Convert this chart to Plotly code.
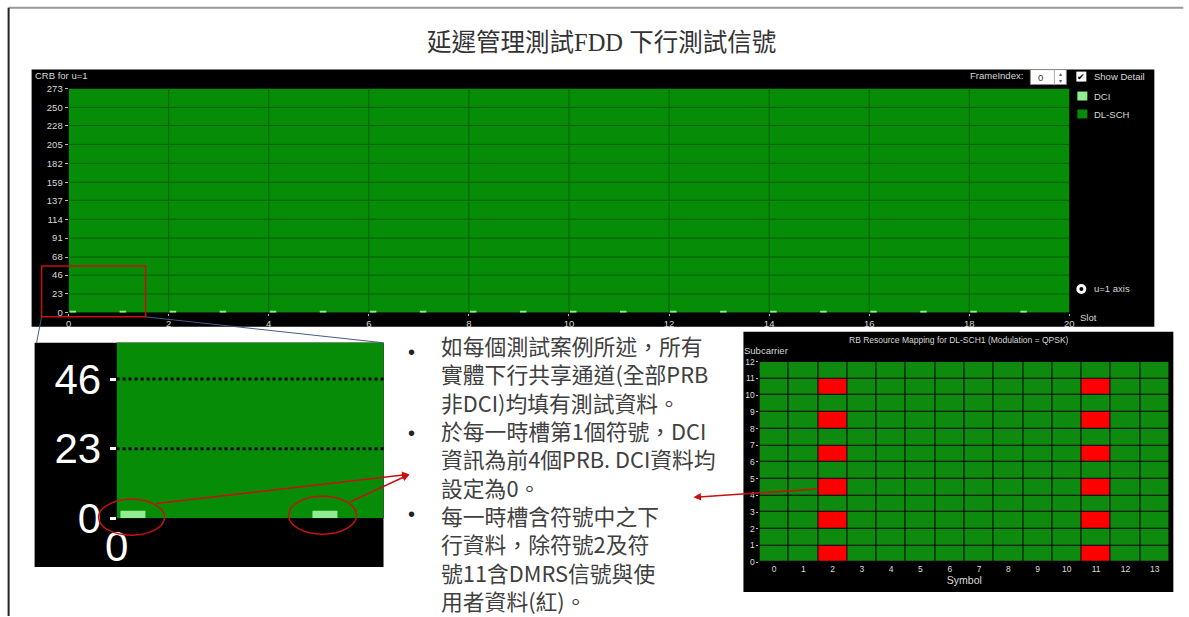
import plotly.graph_objects as go

# positions below (1189x617); the rendered picture comes back
# shifted and slightly squeezed, so every position goes through to_page_x / to_page_y first
W, H = 1195, 640
SHIFT_X, SCALE_X = 10.4, 0.986
SHIFT_Y, SCALE_Y = 5.2, 0.956

TITLE = "延遲管理測試FDD 下行測試信號"

# top panel: CRB grid over 20 slots
SLOT_EDGES = list(range(21))
SLOT_TICKS = [0, 2, 4, 6, 8, 10, 12, 14, 16, 18, 20]
SLOT_TICK_TEXT = ["0", "2", "4", "6", "8", "10", "12", "14", "16", "18", "20"]
CRB_TICKS = [0, 23, 46, 68, 91, 114, 137, 159, 182, 205, 228, 250, 273]
CRB_MAX = 273
DCI_SLOTS = list(range(20))
DCI_START = 0.02
DCI_WIDTH = 0.13
DCI_HEIGHT = 2.5

# zoomed inset
INSET_X_TICKS = [0]
INSET_Y_TICKS = [0, 23, 46]
INSET_X_MAX = 1.39
INSET_Y_MAX = 58

# RE mapping panel
SYMBOLS = list(range(14))
SUBCARRIER_EDGES = list(range(13))
DMRS_SYMBOLS = [2, 11]
DMRS_SUBCARRIERS = [0, 2, 4, 6, 8, 10]

BULLETS = [
	["如每個測試案例所述，所有", "實體下行共享通道(全部PRB", "非DCI)均填有測試資料。"],
	["於每一時槽第1個符號，DCI", "資訊為前4個PRB. DCI資料均", "設定為0。"],
	["每一時槽含符號中之下", "行資料，除符號2及符", "號11含DMRS信號與使", "用者資料(紅)。"],
]

GREEN = "#078c07"
RE_GREEN = "#0e8a0e"
LIGHT_GREEN = "#90ee90"
DMRS_RED = "#ff0000"
GRID = "#066006"
MARK_RED = "#c81010"
UI_FONT = "Liberation Sans"
CJK_FONT = "Noto Sans CJK TC"
TITLE_FONT = "Liberation Serif, Noto Sans CJK TC"
LINE_STEP = 27.1
TEXT_SIZE = LINE_STEP / (1.3 * SCALE_Y)


def to_page_x(x):
	return (x - SHIFT_X) / SCALE_X


def to_page_y(y):
	return (y - SHIFT_Y) / SCALE_Y


def px(x):
	return to_page_x(x) / W


def py(y):
	return 1 - to_page_y(y) / H


fig = go.Figure()

for xa, ya in [("x", "y"), ("x2", "y2")]:
	fig.add_trace(go.Heatmap(
		x=SLOT_EDGES, y=[0, CRB_MAX], z=[[1] * (len(SLOT_EDGES) - 1)],
		colorscale=[[0, GREEN], [1, GREEN]], zmin=0, zmax=1, showscale=False,
		hoverinfo="skip", xaxis=xa, yaxis=ya, name="DL-SCH",
	))
	fig.add_trace(go.Bar(
		x=[s + DCI_START + DCI_WIDTH / 2 for s in DCI_SLOTS], y=[DCI_HEIGHT] * len(DCI_SLOTS),
		width=DCI_WIDTH, marker={"color": LIGHT_GREEN, "line": {"width": 0}},
		xaxis=xa, yaxis=ya, name="DCI", hoverinfo="skip",
	))

re_grid = [[1 if (sym in DMRS_SYMBOLS and sc in DMRS_SUBCARRIERS) else 0 for sym in SYMBOLS]
	for sc in SUBCARRIER_EDGES[:-1]]
fig.add_trace(go.Heatmap(
	x=SYMBOLS, y=SUBCARRIER_EDGES, z=re_grid,
	colorscale=[[0, RE_GREEN], [0.5, RE_GREEN], [0.5, DMRS_RED], [1, DMRS_RED]],
	zmin=0, zmax=1, showscale=False, xgap=1, ygap=1, hoverinfo="skip",
	xaxis="x3", yaxis="y3",
))

small_font = {"family": UI_FONT, "size": 9.5, "color": "#d8d8d8"}
big_font = {"family": UI_FONT, "size": 42, "color": "#ffffff"}

fig.update_layout(
	width=W, height=H,
	margin={"l": 0, "r": 0, "t": 0, "b": 0},
	paper_bgcolor="#ffffff", plot_bgcolor="#000000",
	showlegend=False, barmode="overlay",
	xaxis={"domain": [px(67), px(1068)], "range": [0, 20], "anchor": "y",
		"tickvals": SLOT_TICKS, "ticktext": SLOT_TICK_TEXT, "tickfont": small_font,
		"ticks": "outside", "ticklen": 2, "tickcolor": "#bbbbbb",
		"showgrid": False, "zeroline": False, "fixedrange": True},
	yaxis={"domain": [py(313), py(88)], "range": [0, CRB_MAX], "anchor": "x",
		"tickvals": CRB_TICKS, "tickfont": small_font,
		"ticks": "outside", "ticklen": 3, "tickcolor": "#bbbbbb",
		"showgrid": False, "zeroline": False, "fixedrange": True},
	xaxis2={"domain": [px(115), px(382)], "range": [0, INSET_X_MAX], "anchor": "y2",
		"tickvals": INSET_X_TICKS, "tickfont": big_font, "ticks": "",
		"showgrid": False, "zeroline": False, "fixedrange": True},
	yaxis2={"domain": [py(519), py(343)], "range": [0, INSET_Y_MAX], "anchor": "x2",
		"tickvals": INSET_Y_TICKS, "tickfont": big_font,
		"ticks": "outside", "ticklen": 6, "tickwidth": 3, "tickcolor": "#ffffff",
		"showgrid": False, "zeroline": False, "fixedrange": True},
	xaxis3={"domain": [px(758), px(1168)], "range": [-0.5, 13.5], "anchor": "y3",
		"tickvals": SYMBOLS, "tickfont": {"family": UI_FONT, "size": 8.5, "color": "#dddddd"},
		"title": {"text": "Symbol", "font": {"family": UI_FONT, "size": 10.5, "color": "#dddddd"}, "standoff": 0},
		"showgrid": False, "zeroline": False, "fixedrange": True},
	yaxis3={"domain": [py(563), py(362)], "range": [0, 12], "anchor": "x3",
		"tickvals": SUBCARRIER_EDGES, "tickfont": {"family": UI_FONT, "size": 8.5, "color": "#dddddd"},
		"ticks": "outside", "ticklen": 2, "tickcolor": "#bbbbbb",
		"showgrid": False, "zeroline": False, "fixedrange": True},
)


def box(x0, y0, x1, y1, **kw):
	return {"xref": "paper", "yref": "paper", "x0": px(x0), "x1": px(x1), "y0": py(y1), "y1": py(y0), **kw}


shapes = [
	# slide frame
	box(7, 7, 1182, 7, type="line", line={"color": "#9a9a9a", "width": 2}),
	box(7, 7, 7, 617, type="line", line={"color": "#222222", "width": 2}),
	# black panels
	box(30, 69, 1153, 327, type="rect", fillcolor="#000000", line={"width": 0}, layer="below"),
	box(33, 343, 382, 568, type="rect", fillcolor="#000000", line={"width": 0}, layer="below"),
	box(742, 332, 1172, 593, type="rect", fillcolor="#000000", line={"width": 0}, layer="below"),
]

for v in SLOT_TICKS[1:-1]:
	shapes.append({"type": "line", "xref": "x", "yref": "y domain", "x0": v, "x1": v, "y0": 0, "y1": 1,
		"line": {"color": GRID, "width": 1}})
for v in CRB_TICKS[1:-1]:
	shapes.append({"type": "line", "xref": "x domain", "yref": "y", "x0": 0, "x1": 1, "y0": v, "y1": v,
		"line": {"color": GRID, "width": 1}})
for v in INSET_Y_TICKS[1:]:
	shapes.append({"type": "line", "xref": "x2 domain", "yref": "y2", "x0": 0, "x1": 1, "y0": v, "y1": v,
		"line": {"color": "#000000", "width": 3, "dash": "dot"}})

# zoom box, connector lines and circles
shapes += [
	box(40, 266, 144, 317, type="rect", line={"color": MARK_RED, "width": 1.5}),
	{"type": "line", "xref": "paper", "yref": "paper", "x0": px(40), "x1": px(35), "y0": py(317), "y1": py(343),
		"line": {"color": "#4a5a8a", "width": 1}},
	{"type": "line", "xref": "paper", "yref": "paper", "x0": px(144), "x1": px(382), "y0": py(317), "y1": py(343),
		"line": {"color": "#4a5a8a", "width": 1}},
	box(97, 500, 163, 536, type="circle", line={"color": MARK_RED, "width": 1.5}),
	box(287, 497, 355, 535, type="circle", line={"color": MARK_RED, "width": 1.5}),
]

# legend widgets of the top panel
shapes += [
	box(1029, 69, 1065, 84, type="rect", fillcolor="#ffffff", line={"color": "#888888", "width": 1}),
	box(1053, 69, 1053, 84, type="line", line={"color": "#aaaaaa", "width": 1}),
	box(1075, 71, 1085, 81, type="rect", fillcolor="#ffffff", line={"width": 0}),
	box(1076, 91, 1086, 100, type="rect", fillcolor=LIGHT_GREEN, line={"width": 0}),
	box(1076, 109, 1086, 118, type="rect", fillcolor=GREEN, line={"width": 0}),
	box(1075, 284, 1085, 294, type="circle", fillcolor="#ffffff", line={"width": 0}),
	box(1078, 287, 1082, 291, type="circle", fillcolor="#000000", line={"width": 0}),
]
fig.update_layout(shapes=shapes)


def label(x, y, text, size=9.5, color="#d8d8d8", anchor="left", family=UI_FONT):
	fig.add_annotation(x=px(x), y=py(y), xref="paper", yref="paper", text=text, showarrow=False,
		xanchor=anchor, yanchor="middle", borderpad=0, align="left",
		font={"family": family, "size": size, "color": color})


label(600, 42, TITLE, size=24.5, color="#333333", anchor="center", family=TITLE_FONT)
label(32, 75, "CRB for u=1")
label(968, 75, "FrameIndex:")
label(1036, 77, "0", color="#333333")
label(1059, 73, "▴", size=6, color="#555555", anchor="center")
label(1059, 80, "▾", size=6, color="#555555", anchor="center")
label(1080, 76, "✔", size=9, color="#000000", anchor="center")
label(1092, 76, "Show Detail")
label(1092, 96, "DCI")
label(1092, 114, "DL-SCH")
label(1092, 289, "u=1 axis")
label(1078, 318, "Slot")
label(958, 340, "RB Resource Mapping for DL-SCH1 (Modulation = QPSK)", size=8.5, anchor="center")
label(742, 351, "Subcarrier")

# bullet text: one block with even line spacing, a dot at the first line of each paragraph
first_line_y = 352
all_lines = [text for paragraph in BULLETS for text in paragraph]
label(438, first_line_y + (len(all_lines) - 1) / 2 * LINE_STEP, "<br>".join(all_lines),
	size=TEXT_SIZE, color="#404040", family=CJK_FONT)
line_index = 0
for paragraph in BULLETS:
	label(410, first_line_y + line_index * LINE_STEP, "•", size=20, color="#222222", anchor="center")
	line_index += len(paragraph)

# red callout arrows (tail offsets in page pixels)
for (hx, hy), (tx, ty) in [((408, 475), (157, 503)), ((408, 475), (348, 502)), ((692, 498), (815, 490))]:
	fig.add_annotation(x=px(hx), y=py(hy), xref="paper", yref="paper",
		ax=(tx - hx) / SCALE_X, ay=(ty - hy) / SCALE_Y,
		showarrow=True, arrowhead=2, arrowsize=1, arrowwidth=1.5, arrowcolor=MARK_RED, text="")

page_fix = (
	"document.documentElement.style.margin='0';document.documentElement.style.overflow='hidden';"
	"document.body.style.margin='0';document.body.style.padding='0';document.body.style.overflow='hidden';"
	"var gd=document.getElementById('{plot_id}');gd.style.position='fixed';gd.style.left='0';gd.style.top='0';"
)
fig.write_html("out.html", config={"displayModeBar": False}, post_script=page_fix)
